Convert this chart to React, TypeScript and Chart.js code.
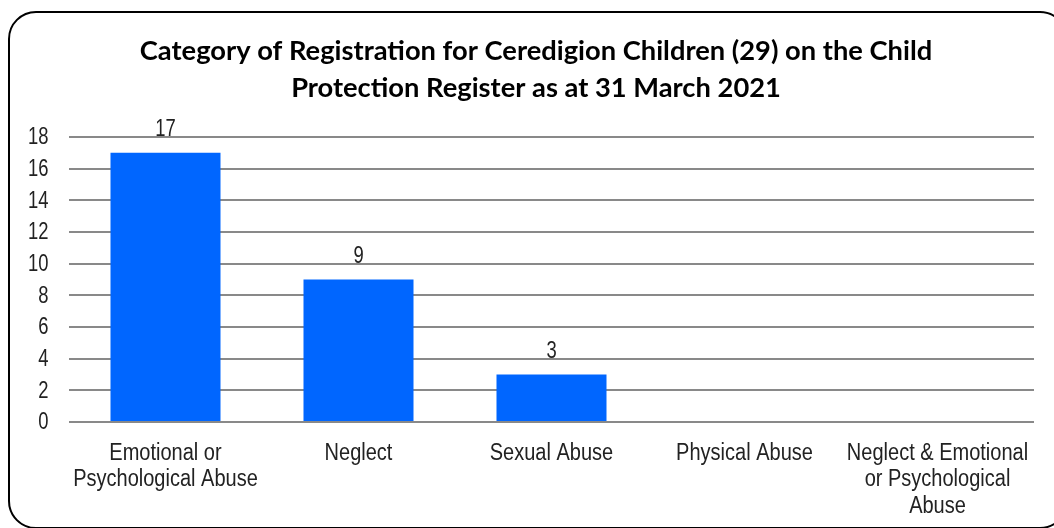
import React, { useEffect, useRef } from "react";
import { Chart, registerables } from "chart.js";

Chart.register(...registerables);

const titleLines = [
  "Category of Registration for Ceredigion Children (29) on the Child",
  "Protection Register as at 31 March 2021",
];
const categories: string[][] = [
  ["Emotional or", "Psychological Abuse"],
  ["Neglect"],
  ["Sexual Abuse"],
  ["Physical Abuse"],
  ["Neglect & Emotional", "or Psychological", "Abuse"],
];
const values = [17, 9, 3, 0, 0];
const yTicks = [0, 2, 4, 6, 8, 10, 12, 14, 16, 18];

const TEXT = "#222222";
const LABEL_FONT = "23px 'Liberation Sans', Arial, sans-serif";

function drawNarrow(ctx: CanvasRenderingContext2D, text: string, x: number, y: number, sx: number, align: CanvasTextAlign, baseline: CanvasTextBaseline) {
  ctx.save();
  ctx.translate(x, y);
  ctx.scale(sx, 1);
  ctx.textAlign = align;
  ctx.textBaseline = baseline;
  ctx.fillText(text, 0, 0);
  ctx.restore();
}

const narrowTextPlugin = {
  id: "narrowText",
  afterDraw(chart: any) {
    const ctx: CanvasRenderingContext2D = chart.ctx;
    const xs = chart.scales.x;
    const ys = chart.scales.y;
    ctx.save();
    ctx.fillStyle = TEXT;
    ctx.font = LABEL_FONT;
    // category labels
    categories.forEach((lines, i) => {
      const cx = xs.getPixelForTick(i);
      lines.forEach((line, j) => {
        drawNarrow(ctx, line, cx, xs.top + 37.5 + j * 26.7, 0.87, "center", "alphabetic");
      });
    });
    // y tick labels
    yTicks.forEach((v) => {
      drawNarrow(ctx, String(v), ys.right - 20.5, ys.getPixelForValue(v) + 1, 0.8, "right", "middle");
    });
    // value labels
    const meta = chart.getDatasetMeta(0);
    meta.data.forEach((bar: any, i: number) => {
      const v = values[i];
      if (!v) return;
      drawNarrow(ctx, String(v), bar.x, bar.y - 17, 0.8, "center", "alphabetic");
    });
    ctx.restore();
  },
};

export default function App() {
  const ref = useRef<HTMLCanvasElement | null>(null);
  useEffect(() => {
    if (!ref.current) return;
    const chart = new Chart(ref.current, {
      type: "bar",
      data: {
        labels: categories,
        datasets: [
          {
            data: values,
            backgroundColor: "#0066FF",
            borderWidth: 0,
            barPercentage: 0.57,
            categoryPercentage: 1,
          },
        ],
      },
      options: {
        responsive: false,
        animation: false,
        layout: { padding: { left: 38, right: 20, top: 0, bottom: 0 } },
        plugins: {
          legend: { display: false },
          tooltip: { enabled: false },
          title: {
            display: true,
            text: titleLines,
            color: "#000000",
            font: { family: "Lato, 'Open Sans', sans-serif", size: 27.3, weight: "bold", lineHeight: 37 / 27.3 },
            padding: { top: 33, bottom: 30 },
          },
        },
        scales: {
          x: {
            grid: { display: false, drawTicks: false },
            border: { display: false },
            ticks: { display: false },
            afterFit: (scale: any) => {
              scale.height = 106;
            },
          },
          y: {
            min: 0,
            max: 18,
            afterBuildTicks: (scale: any) => {
              scale.ticks = yTicks.map((v) => ({ value: v }));
            },
            afterFit: (scale: any) => {
              scale.width = 31;
            },
            grid: { color: "#898989", lineWidth: 2, drawTicks: false },
            border: { display: false },
            ticks: { display: false },
          },
        },
      },
      plugins: [narrowTextPlugin],
    });
    return () => chart.destroy();
  }, []);

  return (
    <div
      style={{
        position: "fixed",
        left: 0,
        top: 0,
        width: 1054,
        height: 528,
        overflow: "hidden",
        background: "#ffffff",
      }}
    >
      <div
        style={{
          position: "absolute",
          left: 8,
          top: 11,
          width: 1056,
          height: 514,
          border: "2px solid #000000",
          borderRadius: 28,
        }}
      />
      <canvas
        ref={ref}
        width={1054}
        height={528}
        style={{ position: "absolute", left: 0, top: 0, display: "block" }}
      />
    </div>
  );
}
